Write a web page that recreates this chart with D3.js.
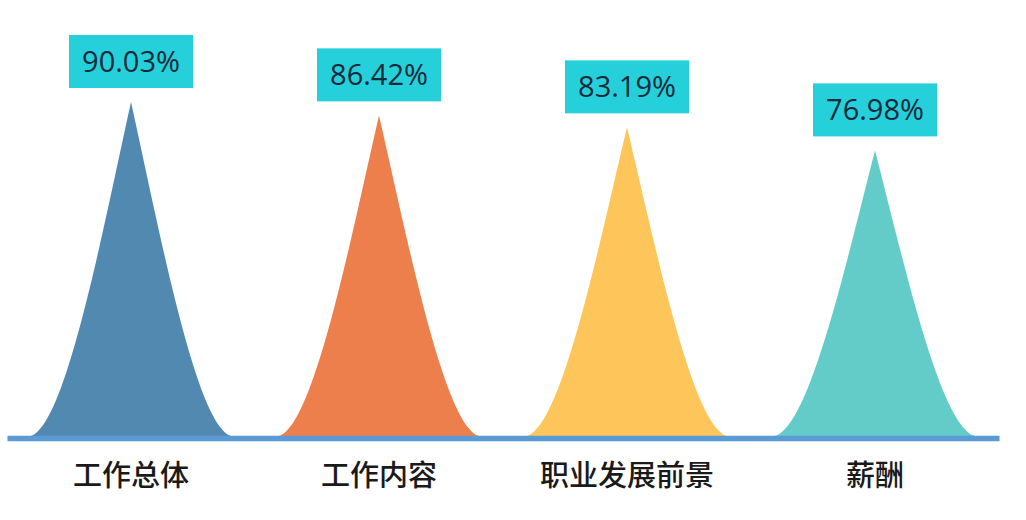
<!DOCTYPE html>
<html>
<head>
<meta charset="utf-8">
<script src="https://cdn.jsdelivr.net/npm/d3@7"></script>
<style>
  body { margin: 0; background: #fff; }
</style>
</head>
<body>
<div id="chart"></div>
<script>
// chart data
var categories = ["工作总体", "工作内容", "职业发展前景", "薪酬"];
var values = [90.03, 86.42, 83.19, 76.98];
var colors = ["#5289b0", "#ed7f4c", "#fdc55a", "#63ccc9"];

var svgWidth = 1026;
var svgHeight = 520;

var svg = d3.select("#chart")
  .append("svg")
  .attr("width", svgWidth)
  .attr("height", svgHeight);

// x: one band per category, y: percentage from the baseline
var xScale = d3.scaleBand()
  .domain(categories)
  .range([7, 999])
  .padding(0);

var yScale = d3.scaleLinear()
  .domain([0, 100])
  .range([436, 65]);

// peak shape, drawn from its centre / base / height
function peakPath(cx, base, top, halfW) {
  var h = base - top;
  var p = d3.path();
  p.moveTo(cx - halfW, base);
  p.bezierCurveTo(cx - halfW * 0.65, base - h * 0.03, cx - halfW * 0.28, base - h * 0.62, cx, top);
  p.bezierCurveTo(cx + halfW * 0.28, base - h * 0.62, cx + halfW * 0.65, base - h * 0.03, cx + halfW, base);
  p.closePath();
  return p.toString();
}

var data = categories.map((c, i) => ({ name: c, value: values[i], color: colors[i] }));
var halfW = xScale.bandwidth() * 0.404;

svg.selectAll("path.peak")
  .data(data)
  .enter()
  .append("path")
  .attr("class", "peak")
  .attr("d", d => peakPath(xScale(d.name) + xScale.bandwidth() / 2, yScale(0), yScale(d.value), halfW))
  .attr("fill", d => d.color);

// baseline axis
var bottomAxis = d3.axisBottom(xScale).tickSize(0).tickPadding(27);
var axisG = svg.append("g")
  .attr("transform", `translate(0, ${yScale(0) + 2})`)
  .call(bottomAxis);

axisG.select(".domain")
  .attr("stroke", "#5b9bd5")
  .attr("stroke-width", 5.5);

axisG.selectAll(".tick text")
  .attr("font-family", "'Noto Sans CJK SC', sans-serif")
  .attr("font-size", "29px")
  .attr("font-weight", 500)
  .attr("fill", "#1a1a1a");

// value labels in boxes
var labels = svg.selectAll("g.vlabel")
  .data(data)
  .enter()
  .append("g")
  .attr("class", "vlabel")
  .attr("transform", d => `translate(${xScale(d.name) + xScale.bandwidth() / 2}, ${yScale(d.value) - 14})`);

labels.append("rect")
  .attr("x", -62)
  .attr("y", -53)
  .attr("width", 124)
  .attr("height", 53)
  .attr("fill", "#26d0da");

labels.append("text")
  .attr("x", 0)
  .attr("y", -16)
  .attr("text-anchor", "middle")
  .attr("font-family", "'Open Sans', sans-serif")
  .attr("font-size", "29px")
  .attr("fill", "#12293a")
  .text(d => d.value.toFixed(2) + "%");
</script>
</body>
</html>
